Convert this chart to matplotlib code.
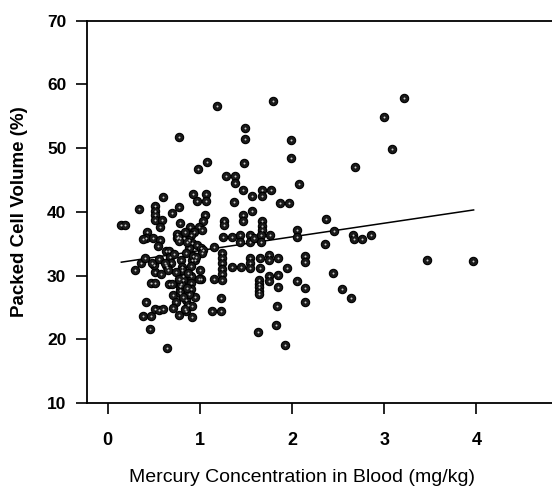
import numpy as np
import matplotlib.pyplot as plt

# Mercury concentration (mg/kg) and packed cell volume (%)
hg = [1.19, 1.80, 3.21, 3.00, 0.78, 1.49, 1.49, 1.99, 3.09, 1.99,
      1.48, 1.08, 0.98, 2.68, 1.28, 1.38, 1.38, 2.08, 1.47, 1.67,
      1.67, 1.77, 1.57, 0.60, 0.93, 0.97, 1.07, 1.07, 1.37, 1.87,
      1.97, 1.57, 2.37, 0.34, 0.51, 0.77, 0.70, 1.47, 1.47, 1.06,
      1.04, 1.26, 1.26, 1.67, 1.67, 1.67, 0.15, 0.19, 0.52, 0.52,
      0.52, 0.59, 0.57, 0.43, 0.42, 0.38, 0.49, 0.57, 0.55, 0.79,
      0.89, 0.75, 0.75, 0.79, 0.83, 0.99, 1.02, 0.94, 0.90, 0.88,
      0.92, 0.97, 1.01, 1.04, 0.88, 0.85, 0.80, 0.92, 0.95, 1.03,
      1.15, 1.25, 1.35, 1.44, 1.44, 1.55, 1.55, 1.59, 1.66, 1.66,
      1.76, 2.05, 2.05, 2.46, 2.36, 2.66, 2.67, 2.76, 2.86, 3.46,
      3.96, 2.14, 2.14, 1.85, 1.75, 1.75, 1.75, 1.75, 1.85, 1.65,
      1.65, 1.55, 1.55, 1.55, 1.45, 1.35, 1.24, 1.24, 1.24, 1.24,
      1.24, 1.24, 1.95, 2.05, 2.14, 2.14, 2.45, 2.54, 2.64, 1.85,
      1.84, 1.83, 1.93, 1.63, 1.64, 1.64, 1.64, 1.64, 1.64, 1.23,
      1.23, 1.13, 1.15, 1.01, 0.99, 0.64, 0.46, 0.39, 0.47, 0.42,
      0.51, 0.56, 0.60, 0.47, 0.51, 0.30, 0.51, 0.50, 0.48, 0.36,
      0.41, 0.56, 0.63, 0.63, 0.67, 0.68, 0.69, 0.65, 0.66, 0.67,
      0.70, 0.71, 0.74, 0.77, 0.79, 0.79, 0.79, 0.82, 0.82, 0.85,
      0.87, 0.85, 0.90, 0.90, 0.90, 0.95, 0.92, 0.92, 0.81, 0.81,
      0.76, 0.78, 0.84, 0.86, 0.93, 0.96, 0.72, 0.74, 0.58, 0.62,
      0.88, 0.82, 0.80, 0.86, 0.77, 1.00, 0.91, 0.87, 0.84, 0.71]
pcv = [56.6, 57.4, 57.8, 54.9, 51.8, 53.1, 51.5, 51.3, 49.9, 48.4,
       47.6, 47.8, 46.7, 47.1, 45.6, 45.7, 44.6, 44.3, 43.5, 43.4,
       42.5, 43.4, 42.5, 42.4, 42.8, 41.7, 42.8, 41.7, 41.6, 41.4,
       41.4, 40.2, 38.9, 40.4, 40.9, 40.8, 39.8, 39.5, 38.5, 39.5,
       38.6, 38.6, 38.0, 38.5, 37.8, 37.2, 37.9, 37.9, 40.2, 39.5,
       38.8, 38.7, 37.7, 36.9, 35.9, 35.8, 35.9, 35.6, 34.6, 38.2,
       37.7, 36.6, 35.9, 35.9, 35.9, 37.7, 37.2, 36.8, 36.4, 35.6,
       35.1, 34.8, 34.3, 34.0, 34.3, 33.5, 32.5, 32.5, 32.5, 33.5,
       34.5, 36.0, 36.0, 36.4, 35.3, 36.4, 35.3, 35.9, 36.4, 35.3,
       36.3, 37.2, 36.0, 37.0, 35.0, 36.3, 35.8, 35.8, 36.3, 32.5,
       32.3, 33.1, 32.1, 32.7, 33.3, 32.4, 29.9, 29.1, 30.1, 32.8,
       31.2, 32.8, 31.9, 31.2, 31.4, 31.4, 33.5, 32.8, 32.0, 31.1,
       30.2, 29.3, 31.2, 29.1, 28.0, 25.9, 30.4, 27.9, 26.4, 28.2,
       25.2, 22.2, 19.1, 21.2, 29.3, 28.7, 28.2, 27.6, 27.1, 26.4,
       24.4, 24.4, 29.4, 29.4, 29.4, 18.6, 21.6, 23.7, 23.7, 25.8,
       24.8, 24.6, 24.7, 28.8, 28.8, 30.8, 30.6, 31.7, 32.0, 31.9,
       32.7, 32.6, 31.7, 33.8, 33.8, 32.9, 31.9, 31.4, 30.9, 28.7,
       28.7, 27.0, 25.9, 23.8, 27.3, 27.8, 28.3, 29.9, 29.3, 26.2,
       25.4, 24.4, 29.9, 28.9, 27.9, 26.6, 25.2, 23.5, 31.4, 30.9,
       36.1, 35.4, 36.9, 35.2, 33.0, 32.9, 33.4, 30.6, 30.2, 31.9,
       27.1, 26.6, 28.6, 28.1, 29.4, 30.9, 31.5, 30.4, 24.7, 24.9]

# regression line end points as drawn
fit_x = [0.15, 3.97]
fit_y = [32.1, 40.3]

plt.rcParams['font.family'] = ['Liberation Sans', 'DejaVu Sans']

fig = plt.figure(figsize=(5.52, 4.95), dpi=100)
ax = fig.add_axes([0.158, 0.186, 0.842, 0.772])

ax.plot(fit_x, fit_y, color='black', linewidth=1.1, zorder=2)
ax.scatter(hg, pcv, s=36, facecolor='#1a1a1a', edgecolor='black', linewidth=0.8, zorder=3)
ax.scatter(hg, pcv, s=2, color='#cccccc', linewidth=0, zorder=4)

ax.set_xlim(-0.22, 4.82)
ax.set_ylim(10, 70)
ax.set_xticks([0, 1, 2, 3, 4])
ax.set_yticks([10, 20, 30, 40, 50, 60, 70])
ax.spines['right'].set_visible(False)
for s in ['left', 'bottom', 'top']:
    ax.spines[s].set_linewidth(1.3)
ax.tick_params(axis='x', direction='out', length=8, width=1.2, pad=13, labelsize=13)
ax.tick_params(axis='y', direction='out', length=8, width=1.2, pad=7, labelsize=12.5)
for lab in ax.get_xticklabels() + ax.get_yticklabels():
    lab.set_fontweight('bold')

ax.set_ylabel('Packed Cell Volume (%)', fontsize=13.5, fontweight='bold')
ax.yaxis.set_label_coords(-0.128, 0.5)
ax.set_xlabel('Mercury Concentration in Blood (mg/kg)', fontsize=14)
ax.xaxis.set_label_coords(0.462, -0.172)

fig.savefig('out.png', dpi=100)
